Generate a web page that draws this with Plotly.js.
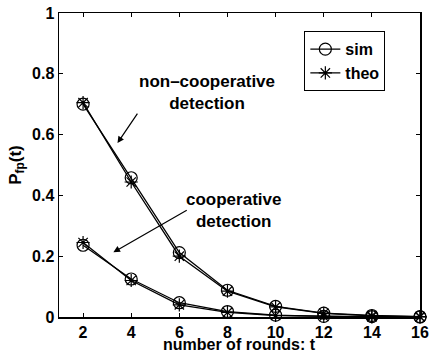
<!DOCTYPE html>
<html>
<head>
<meta charset="utf-8">
<script src="https://cdn.plot.ly/plotly-3.0.1.min.js"></script>
<style>html,body{margin:0;padding:0;background:#fff}#chart{width:433px;height:353px}</style>
</head>
<body>
<div id="chart"></div>
<script>
var rounds = [2, 4, 6, 8, 10, 12, 14, 16];
var nonCoopSim = [0.700, 0.458, 0.212, 0.088, 0.035, 0.013, 0.005, 0.001];
var nonCoopTheo = [0.705, 0.444, 0.200, 0.085, 0.033, 0.012, 0.004, 0.001];
var coopSim = [0.236, 0.125, 0.047, 0.018, 0.006, 0.002, 0.001, 0.000];
var coopTheo = [0.245, 0.120, 0.040, 0.015, 0.005, 0.002, 0.0005, 0.000];
var xTicks = [2, 4, 6, 8, 10, 12, 14, 16];
var yTicks = [0, 0.2, 0.4, 0.6, 0.8, 1];
var xTitle = 'number of rounds: t';

var F = '"Liberation Sans", Arial, Helvetica, sans-serif';
function simTrace(y, show) {
  return {x: rounds, y: y, type: 'scatter', mode: 'lines+markers', name: 'sim',
    showlegend: show, legendgroup: 'sim', cliponaxis: false,
    line: {color: '#000', width: 1.3},
    marker: {symbol: 'circle-open', size: 12, color: '#000', line: {width: 1.2, color: '#000'}}};
}
function theoTrace(y, show) {
  return {x: rounds, y: y, type: 'scatter', mode: 'lines+markers', name: 'theo',
    showlegend: show, legendgroup: 'theo', cliponaxis: false,
    line: {color: '#000', width: 1.3},
    marker: {symbol: 'asterisk-open', size: 11, color: '#000', line: {width: 1.2, color: '#000'}}};
}
var data = [simTrace(nonCoopSim, true), theoTrace(nonCoopTheo, true), simTrace(coopSim, false), theoTrace(coopTheo, false)];

var layout = {
  width: 433, height: 353,
  margin: {l: 59, r: 13, t: 13, b: 36},
  paper_bgcolor: '#fff', plot_bgcolor: '#fff',
  font: {family: F, size: 16, color: '#000', weight: 'bold'},
  showlegend: true,
  legend: {x: 0.904, xanchor: 'right', y: 0.94, yanchor: 'top', bgcolor: '#fff',
    bordercolor: '#000', borderwidth: 1, font: {family: F, size: 16, weight: 'bold'},
    tracegroupgap: 0, itemwidth: 30},
  xaxis: {range: [1, 16], tickvals: xTicks, ticktext: xTicks.map(String), ticks: 'inside', ticklen: 4,
    tickcolor: '#000', showgrid: false, zeroline: false, showline: true, mirror: 'ticks',
    linecolor: '#000', linewidth: 1.5,
    tickfont: {family: F, size: 16, weight: 'bold'}},
  yaxis: {range: [0, 1], tickvals: yTicks, ticktext: yTicks.map(String), ticks: 'inside', ticklen: 4,
    tickcolor: '#000', showgrid: false, zeroline: false, showline: true, mirror: 'ticks',
    linecolor: '#000', linewidth: 1.5,
    tickfont: {family: F, size: 16, weight: 'bold'},
    title: {text: 'P<sub>fp</sub>(t)', font: {family: F, size: 17, weight: 'bold'}, standoff: 6}},
  annotations: [
    {xref: 'paper', yref: 'paper', x: 0.5, y: -0.091, xanchor: 'center', yanchor: 'middle',
      text: xTitle, showarrow: false, font: {family: F, size: 16, weight: 'bold'}},
    {xref: 'x', yref: 'y', x: 3.43, y: 0.572, ax: 4.30, ay: 0.674, axref: 'x', ayref: 'y',
      text: '', showarrow: true, arrowhead: 2, arrowsize: 1.1, arrowwidth: 1.2, arrowcolor: '#000'},
    {xref: 'paper', yref: 'paper', x: 0.411, y: 0.737, xanchor: 'center', yanchor: 'middle',
      text: 'non\u2013cooperative<br>detection',
      showarrow: false, align: 'center', font: {family: F, size: 17, weight: 'bold'}},
    {xref: 'x', yref: 'y', x: 3.26, y: 0.213, ax: 6.37, ay: 0.354, axref: 'x', ayref: 'y',
      text: '', showarrow: true, arrowhead: 2, arrowsize: 1.1, arrowwidth: 1.2, arrowcolor: '#000'},
    {xref: 'paper', yref: 'paper', x: 0.483, y: 0.351, xanchor: 'center', yanchor: 'middle',
      text: 'cooperative<br>detection',
      showarrow: false, align: 'center', font: {family: F, size: 17, weight: 'bold'}}
  ]
};
Plotly.newPlot('chart', data, layout, {staticPlot: true, displayModeBar: false});
</script>
</body>
</html>
